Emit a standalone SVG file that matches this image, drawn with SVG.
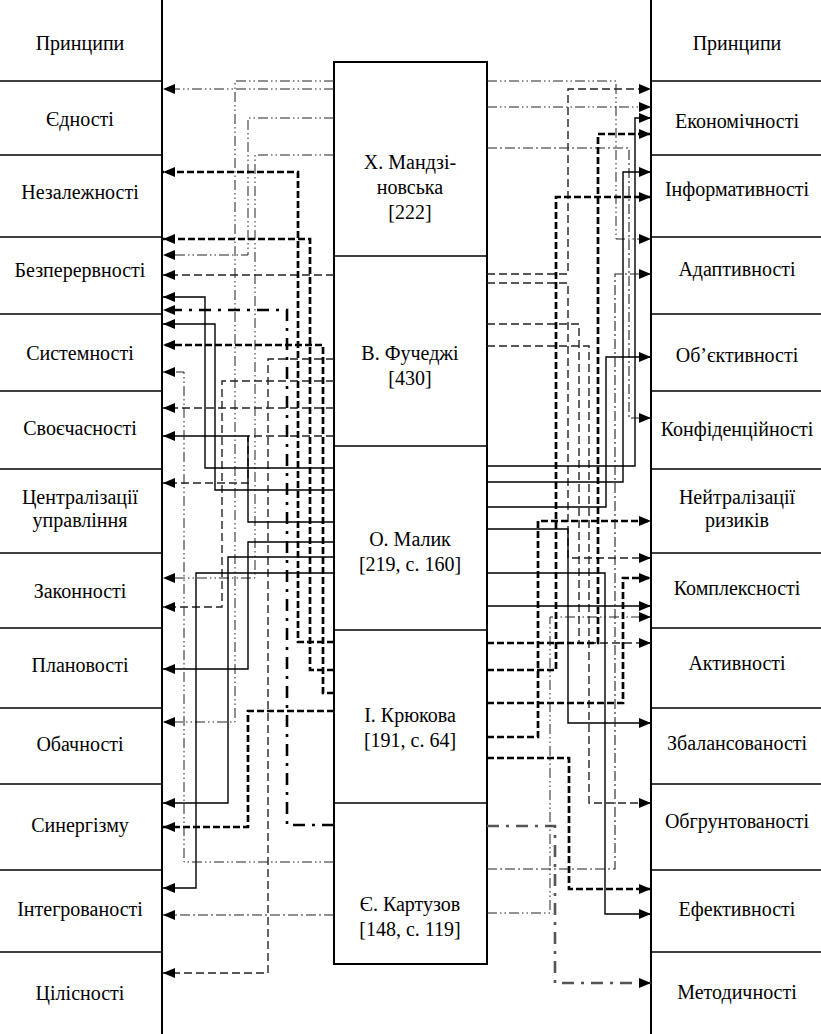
<svg xmlns="http://www.w3.org/2000/svg" width="821" height="1034" viewBox="0 0 821 1034">
<defs>
<marker id="ah" markerUnits="userSpaceOnUse" markerWidth="13" markerHeight="11" refX="12" refY="5" orient="auto">
<path d="M0,0 L12,5 L0,10 z" fill="#000"/>
</marker>
<style>
.frame{stroke:#000;stroke-width:2;fill:none}
.div{stroke:#000;stroke-width:1.3}
.t{font-family:"Liberation Serif","Times New Roman","DejaVu Serif",serif;font-size:20px;fill:#000;text-anchor:middle}
.c path{fill:none;marker-end:url(#ah)}
.c path.n{marker-end:none}
.sol{stroke:#000;stroke-width:1.4}
.dsh{stroke:#222;stroke-width:1.4;stroke-dasharray:8 4}
.tdsh{stroke:#000;stroke-width:2.7;stroke-dasharray:7 3}
.ddot{stroke:#222;stroke-width:1;stroke-dasharray:10 3 1.5 3 1.5 3}
.dd{stroke:#222;stroke-width:1.1;stroke-dasharray:10 3 2 3}
.tdd{stroke:#000;stroke-width:2.6;stroke-dasharray:12 7 3 7}
.tddg{stroke:#555;stroke-width:2.6;stroke-dasharray:12 7 3 7}
</style>
</defs>
<rect width="821" height="1034" fill="#fff"/>

<g id="left-column">
<line class="frame" x1="162" y1="0" x2="162" y2="1034"/>
<g class="div">
<line x1="0" y1="81" x2="162" y2="81"/><line x1="0" y1="155" x2="162" y2="155"/><line x1="0" y1="237" x2="162" y2="237"/><line x1="0" y1="314" x2="162" y2="314"/><line x1="0" y1="391" x2="162" y2="391"/><line x1="0" y1="469" x2="162" y2="469"/><line x1="0" y1="553" x2="162" y2="553"/><line x1="0" y1="628" x2="162" y2="628"/><line x1="0" y1="708" x2="162" y2="708"/><line x1="0" y1="784" x2="162" y2="784"/><line x1="0" y1="870" x2="162" y2="870"/><line x1="0" y1="952" x2="162" y2="952"/>
</g>
</g>
<g id="l-header"><text class="t" x="80" y="50">Принципи</text></g>
<g id="l-ednosti"><text class="t" x="80" y="126">Єдності</text></g>
<g id="l-nezal"><text class="t" x="80" y="199">Незалежності</text></g>
<g id="l-bezper"><text class="t" x="80" y="277">Безперервності</text></g>
<g id="l-system"><text class="t" x="80" y="360">Системності</text></g>
<g id="l-svoech"><text class="t" x="80" y="435">Своєчасності</text></g>
<g id="l-central"><text class="t" x="80" y="504">Централізації</text><text class="t" x="80" y="527">управління</text></g>
<g id="l-zakon"><text class="t" x="80" y="598">Законності</text></g>
<g id="l-planov"><text class="t" x="80" y="672">Плановості</text></g>
<g id="l-obach"><text class="t" x="80" y="751">Обачності</text></g>
<g id="l-synerg"><text class="t" x="80" y="832">Синергізму</text></g>
<g id="l-integr"><text class="t" x="80" y="916">Інтегрованості</text></g>
<g id="l-tsilis"><text class="t" x="80" y="1000">Цілісності</text></g>

<g id="right-column">
<line class="frame" x1="651" y1="0" x2="651" y2="1034"/>
<g class="div">
<line x1="651" y1="81" x2="821" y2="81"/><line x1="651" y1="155" x2="821" y2="155"/><line x1="651" y1="237" x2="821" y2="237"/><line x1="651" y1="314" x2="821" y2="314"/><line x1="651" y1="391" x2="821" y2="391"/><line x1="651" y1="469" x2="821" y2="469"/><line x1="651" y1="553" x2="821" y2="553"/><line x1="651" y1="628" x2="821" y2="628"/><line x1="651" y1="708" x2="821" y2="708"/><line x1="651" y1="784" x2="821" y2="784"/><line x1="651" y1="870" x2="821" y2="870"/><line x1="651" y1="952" x2="821" y2="952"/>
</g>
</g>
<g id="r-header"><text class="t" x="737" y="50">Принципи</text></g>
<g id="r-ekonom"><text class="t" x="737" y="128">Економічності</text></g>
<g id="r-inform"><text class="t" x="737" y="196">Інформативності</text></g>
<g id="r-adapt"><text class="t" x="737" y="276">Адаптивності</text></g>
<g id="r-obekt"><text class="t" x="737" y="362">Об’єктивності</text></g>
<g id="r-konf"><text class="t" x="737" y="436">Конфіденційності</text></g>
<g id="r-neutr"><text class="t" x="737" y="504">Нейтралізації</text><text class="t" x="737" y="527">ризиків</text></g>
<g id="r-kompl"><text class="t" x="737" y="595">Комплексності</text></g>
<g id="r-aktiv"><text class="t" x="737" y="670">Активності</text></g>
<g id="r-zbal"><text class="t" x="737" y="750">Збалансованості</text></g>
<g id="r-obgr"><text class="t" x="737" y="828">Обгрунтованості</text></g>
<g id="r-efekt"><text class="t" x="737" y="916">Ефективності</text></g>
<g id="r-metod"><text class="t" x="737" y="999">Методичності</text></g>

<g id="authors">
<rect class="frame" x="334" y="62" width="153" height="902"/>
<g class="div">
<line x1="334" y1="256" x2="487" y2="256"/><line x1="334" y1="446" x2="487" y2="446"/><line x1="334" y1="630" x2="487" y2="630"/><line x1="334" y1="803" x2="487" y2="803"/>
</g>
</g>
<g id="a-mandz"><text class="t" x="410" y="169">Х. Мандзі-</text><text class="t" x="410" y="194">новська</text><text class="t" x="410" y="219">[222]</text></g>
<g id="a-fuch"><text class="t" x="410" y="360">В. Фучеджі</text><text class="t" x="410" y="385">[430]</text></g>
<g id="a-malyk"><text class="t" x="410" y="546">О. Малик</text><text class="t" x="410" y="571">[219, с. 160]</text></g>
<g id="a-kryuk"><text class="t" x="410" y="722">І. Крюкова</text><text class="t" x="410" y="747">[191, с. 64]</text></g>
<g id="a-kart"><text class="t" x="410" y="911">Є. Картузов</text><text class="t" x="410" y="936">[148, с. 119]</text></g>

<g id="connectors" class="c">
<!-- left side -->
<path class="ddot" d="M334,81 H235 V722 H163"/>
<path class="ddot" d="M334,89 H163"/>
<path class="ddot" d="M334,118 H248 V255 H163"/>
<path class="ddot" d="M334,155 H255 V578 H163"/>
<path class="dsh" d="M334,275 H163"/>
<path class="dsh" d="M334,359 H268 V973 H163"/>
<path class="dsh" d="M334,381 H222 V607 H163"/>
<path class="dsh" d="M334,408 H163"/>
<path class="dsh" d="M334,436 H248 V483 H163"/>
<path class="sol" d="M334,522 H248 V436 H163"/>
<path class="sol" d="M334,468 H205 V297 H163"/>
<path class="sol" d="M334,490 H215 V324 H163"/>
<path class="sol" d="M334,542 H248 V669 H163"/>
<path class="sol" d="M334,557 H228 V803 H163"/>
<path class="sol" d="M334,573 H196 V888 H163"/>
<path class="tdsh" d="M334,642 H298 V172 H163"/>
<path class="tdsh" d="M334,670 H310 V239 H163"/>
<path class="tdsh" d="M334,693 H323 V345 H163"/>
<path class="tdsh" d="M334,711 H248 V827 H163"/>
<path class="tdd" d="M334,825 H287 V310 H163"/>
<path class="ddot" d="M334,862 H184 V372 H163"/>
<path class="dd" d="M334,915 H163"/>
<!-- right side -->
<path class="ddot" d="M487,81 H616 V239 H651"/>
<path class="ddot" d="M487,107 H651"/>
<path class="dd" d="M487,148 H629 V418 H651"/>
<path class="dsh" d="M487,274 H568 V89 H651"/>
<path class="dsh" d="M487,283 H568 V558 H651"/>
<path class="dsh" d="M487,324 H579 V643 H651"/>
<path class="dsh" d="M487,346 H589 V803 H651"/>
<path class="sol" d="M487,466 H635 V118 H651"/>
<path class="sol" d="M487,482 H623 V172 H651"/>
<path class="sol" d="M487,507 H606 V357 H651"/>
<path class="sol" d="M487,529 H568 V723 H651"/>
<path class="sol" d="M487,573 H605 V914 H651"/>
<path class="sol" d="M487,606 H651"/>
<path class="tdsh n" d="M487,643 H598 V134"/>
<path class="tdsh" d="M598,134 H651"/>
<path class="tdsh" d="M487,670 H556 V197 H651"/>
<path class="tdsh" d="M487,703 H623 V578 H651"/>
<path class="tdsh" d="M487,737 H538 V521 H651"/>
<path class="tdsh" d="M487,758 H569 V889 H651"/>
<path class="tddg" d="M487,826 H555 V983 H651"/>
<path class="dd" d="M487,869 H615 V274 H651"/>
<path class="ddot" d="M487,913 H550 V617 H651"/>
</g>
</svg>
